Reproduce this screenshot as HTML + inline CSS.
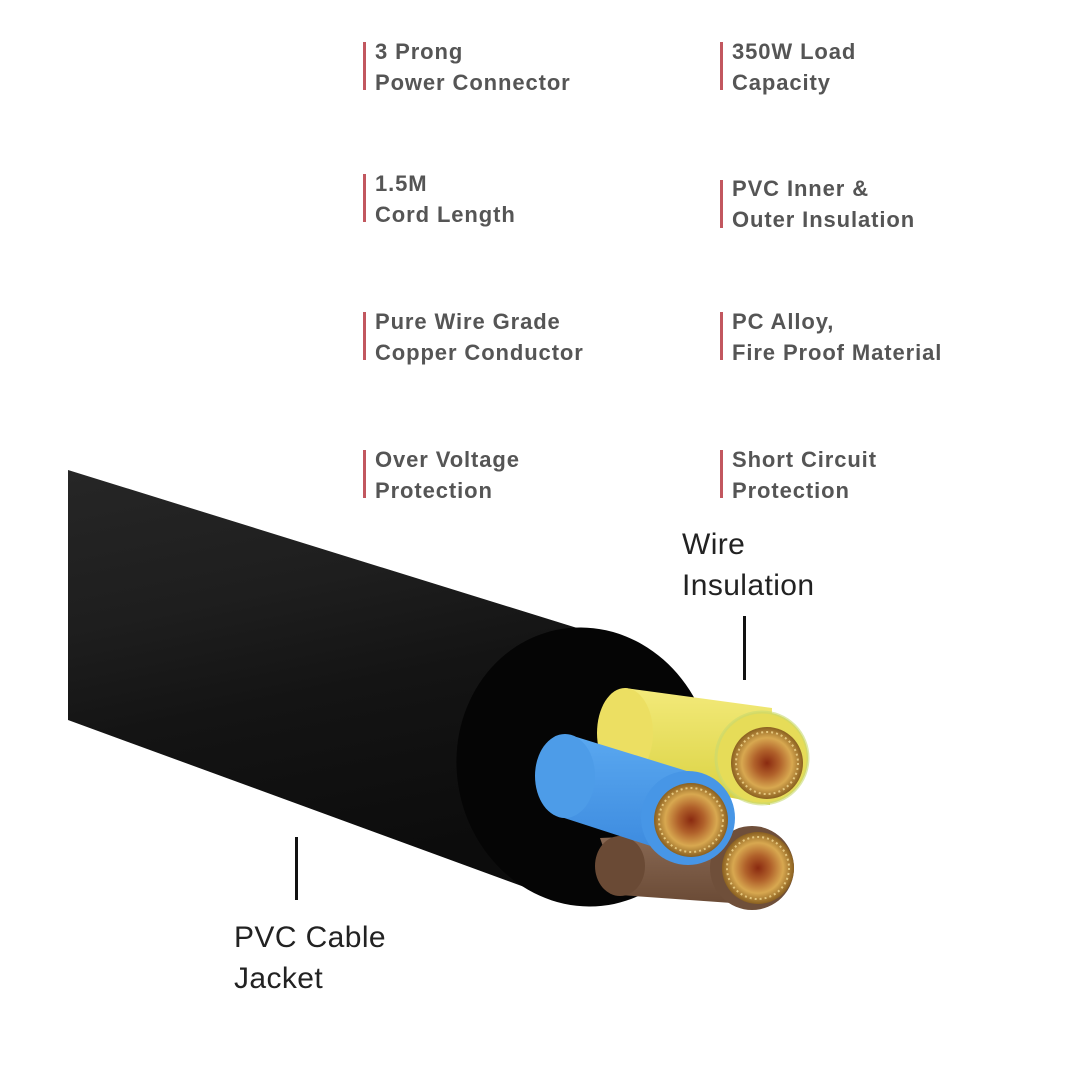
<!DOCTYPE html>
<html><head><meta charset="utf-8"><style>
html,body{margin:0;padding:0;background:#fff;width:1080px;height:1080px;overflow:hidden}
svg{display:block}
.f{font-family:"Liberation Sans",sans-serif;font-size:22px;font-weight:bold;fill:#555;letter-spacing:0.9px}
.b{font-family:"Liberation Sans",sans-serif;font-size:30px;fill:#222;letter-spacing:0.4px}
</style></head><body>
<svg width="1080" height="1080" viewBox="0 0 1080 1080">
<defs>
<linearGradient id="body" x1="0" y1="0" x2="0.25" y2="1">
<stop offset="0" stop-color="#262626"/><stop offset="0.35" stop-color="#1e1e1e"/><stop offset="0.6" stop-color="#141414"/><stop offset="1" stop-color="#0c0c0c"/></linearGradient>
<radialGradient id="cu"><stop offset="0" stop-color="#8a2a10"/><stop offset="0.35" stop-color="#b0602a"/><stop offset="0.7" stop-color="#d8a850"/><stop offset="1" stop-color="#8a6020"/></radialGradient>
<linearGradient id="yel" x1="0" y1="0" x2="0" y2="1"><stop offset="0" stop-color="#f3ea7a"/><stop offset="1" stop-color="#d9d140"/></linearGradient>
<linearGradient id="blu" x1="0" y1="0" x2="0" y2="1"><stop offset="0" stop-color="#5aa8f0"/><stop offset="1" stop-color="#3a88dd"/></linearGradient>
<linearGradient id="brn" x1="0" y1="0" x2="0" y2="1"><stop offset="0" stop-color="#8a6a55"/><stop offset="1" stop-color="#6a4a35"/></linearGradient>
</defs>
<g fill="#c2575f">
<rect x="363" y="42" width="3" height="48"/><rect x="720" y="42" width="3" height="48"/>
<rect x="363" y="174" width="3" height="48"/><rect x="720" y="180" width="3" height="48"/>
<rect x="363" y="312" width="3" height="48"/><rect x="720" y="312" width="3" height="48"/>
<rect x="363" y="450" width="3" height="48"/><rect x="720" y="450" width="3" height="48"/>
</g>
<text class="f" x="375" y="59">3 Prong</text><text class="f" x="375" y="90">Power Connector</text>
<text class="f" x="732" y="59">350W Load</text><text class="f" x="732" y="90">Capacity</text>
<text class="f" x="375" y="191">1.5M</text><text class="f" x="375" y="222">Cord Length</text>
<text class="f" x="732" y="196">PVC Inner &amp;</text><text class="f" x="732" y="227">Outer Insulation</text>
<text class="f" x="375" y="329">Pure Wire Grade</text><text class="f" x="375" y="360">Copper Conductor</text>
<text class="f" x="732" y="329">PC Alloy,</text><text class="f" x="732" y="360">Fire Proof Material</text>
<text class="f" x="375" y="467">Over Voltage</text><text class="f" x="375" y="498">Protection</text>
<text class="f" x="732" y="467">Short Circuit</text><text class="f" x="732" y="498">Protection</text>
<path d="M68,470 L590,632 L560,900 L68,720 Z" fill="url(#body)"/>
<ellipse cx="585" cy="767" rx="128" ry="140" transform="rotate(-12 585 767)" fill="#050505"/>
<path d="M600,838 L740,832 L760,905 L620,895 Z" fill="url(#brn)"/>
<ellipse cx="620" cy="866" rx="25" ry="30" fill="#6a4a35"/>
<circle cx="752" cy="868" r="42" fill="#6f4f3a"/>
<path d="M625,688 L772,708 L770,805 L610,775 Z" fill="url(#yel)"/>
<ellipse cx="625" cy="733" rx="28" ry="45" fill="#ecdf62"/>
<circle cx="762" cy="758" r="46" fill="#e6dc58"/>
<circle cx="762" cy="758" r="46" fill="none" stroke="#c8d870" stroke-width="3" opacity="0.6"/>
<path d="M570,735 L690,772 L700,862 L555,815 Z" fill="url(#blu)"/>
<ellipse cx="565" cy="776" rx="30" ry="42" fill="#4d9ce8"/>
<circle cx="688" cy="818" r="47" fill="#4796e6"/>
<circle cx="767" cy="763" r="36" fill="url(#cu)"/>
<circle cx="691" cy="820" r="37" fill="url(#cu)"/>
<circle cx="758" cy="868" r="36" fill="url(#cu)"/>
<g fill="none" stroke="#f2d890" stroke-width="2" stroke-dasharray="2 3" opacity="0.8">
<circle cx="767" cy="763" r="31"/><circle cx="691" cy="820" r="32"/><circle cx="758" cy="868" r="31"/>
</g>
<rect x="743" y="616" width="3" height="64" fill="#111"/>
<rect x="295" y="837" width="3" height="63" fill="#111"/>
<text class="b" x="682" y="554">Wire</text>
<text class="b" x="682" y="595">Insulation</text>
<text class="b" x="234" y="947">PVC Cable</text>
<text class="b" x="234" y="988">Jacket</text>
</svg>
</body></html>
